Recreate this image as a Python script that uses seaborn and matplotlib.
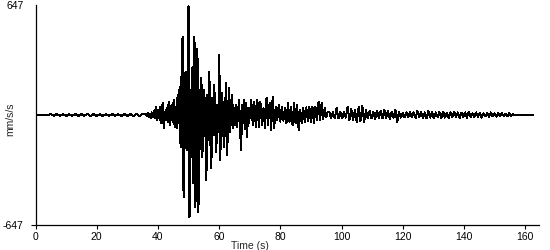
import numpy as np
import pandas as pd
import matplotlib
matplotlib.use("Agg")
import matplotlib.pyplot as plt
import seaborn as sns

# ---------------- data ----------------
# quiet pre-event record
quiet_start, quiet_dt = 0.0, 1.0
quiet_vals = [0, 0, 0, 0, 0,
              5, -5, 6, -4, 5, -6, 4, -5, 6, -5,
              5, -4, 6, -6, 5, -5, 4, -6, 5, -5,
              6, -4, 5, -6, 5, -5, 6, -8, 7, -6,
              8]
# onset and strong motion
strong_start, strong_dt = 36.04, 0.3247
strong_vals = [6, -8, 10, -12, 8, -18, 15, -12, 25, -20,
               47, -29, 30, -20, 47, -47, 35, 70, -76, 20,
               -30, 41, -41, 76, -59, 30, 59, -41, 88, -70,
               47, -76, 118, -47, 165, -188, 247, 459, -482, 100,
               253, -206, 206, 641, -600, 150, -247, 282, -400, 459,
               -541, 200, 388, -570, 150, -200, 218, -247, 150, 129,
               -100, -382, 120, -150, 253, -160, -312, 100, -120, 176,
               -100, -218, 60, -100, 353, -265, 50, 129, -106, -188,
               80, 188, -235, 60, 159, -100, 50, 118, -76, 40,
               -60, 59, -70, 30, 88, -106, -206, 60, -50, 88,
               -80, 70, -129, 40, -47]
# coda
coda_start, coda_dt = 70.5, 0.5
coda_vals = [88, -59, 76, -70, 88, -69, 76, -59, 40, -76,
             100, -60, 72, -88, 106, -76, 50, -29, 59, -39,
             49, -33, 41, -50, 70, -40, 49, -59, 70, -50,
             59, -88, 30, -50, 41, -41, 45, -35, 47, -41,
             47, -47, 47, -29, 76, -29, 70, -25, 41, -12,
             20]
# late tail
tail_start, tail_dt = 96.0, 0.6
tail_vals = [20, -18, 15, -20, 41, -20, 18, -20, 20, -15,
             47, -29, 35, -29, 29, -41, 47, -35, 53, -41,
             29, -20, 23, -18, 20, -25, 26, -18, 23, -20,
             29, -18, 23, -22, 20, -15, 29, -41, 18, -15,
             12, -12, 15, -14, 18, -12, 15, -18, 23, -12,
             20, -18, 15, -20, 23, -15, 18, -20, 15, -12,
             18, -18, 20, -15, 12, -18, 15, -10, 18, -12,
             15, -18, 12, -10, 15, -15, 18, -12, 10, -12,
             15, -10, 12, -15, 10, -8, 12, -10, 15, -8,
             10, -10, 12, -8, 10, -6, 8, -8, 10, -5,
             6, -3, 2, -2, 2, -1, 2, -2, 1, -1,
             1, 0]

y_limit = 647
x_ticks = [0, 20, 40, 60, 80, 100, 120, 140, 160]
y_ticks = [-647, 647]
y_tick_labels = ["-647", "647"]
x_label = "Time (s)"
y_label = "mm/s/s"

# ---------------- build table ----------------
segments = [(quiet_start, quiet_dt, quiet_vals),
            (strong_start, strong_dt, strong_vals),
            (coda_start, coda_dt, coda_vals),
            (tail_start, tail_dt, tail_vals)]
times = np.concatenate([s + d * np.arange(len(v)) for s, d, v in segments])
vals = np.concatenate([np.asarray(v, float) for _, _, v in segments])
df = pd.DataFrame({"time": times, "accel": vals})

# ---------------- plot ----------------
sns.set_style("white")
plt.rcParams["font.family"] = ["Liberation Sans", "DejaVu Sans"]
plt.rcParams["font.size"] = 7

fig = plt.figure(figsize=(5.5, 2.5), dpi=100)
ax = fig.add_axes([35.5 / 550, 25 / 250, 503.5 / 550, 220 / 250])

sns.lineplot(data=df, x="time", y="accel", sort=False, estimator=None,
             color="black", linewidth=0.72, ax=ax)
for ln in ax.lines:
    ln.set_antialiased(False)

ax.set_xlim(0, 503.5 / 3.06)
ax.set_ylim(-y_limit, y_limit)

for side in ["top", "right"]:
    ax.spines[side].set_visible(False)
for side in ["left", "bottom"]:
    ax.spines[side].set_color("black")
    ax.spines[side].set_linewidth(0.9)

ax.set_xticks(x_ticks)
ax.set_xticklabels([str(t) for t in x_ticks])
ax.set_yticks(y_ticks)
ax.set_yticklabels(y_tick_labels)
ax.tick_params(axis="x", direction="out", length=3, width=0.8, pad=2,
               colors="black", labelsize=7.5, bottom=True)
ax.tick_params(axis="y", direction="out", length=3.6, width=0.8, pad=5,
               colors="black", labelsize=7.5, left=True)
ax.yaxis.get_major_ticks()[1].tick1line.set_visible(False)

ax.set_xlabel(x_label, fontsize=7.5)
ax.set_ylabel(y_label, fontsize=7.5)
ax.xaxis.set_label_coords(0.426, -0.072)
ax.yaxis.set_label_coords(-0.041, 0.482)
ax.grid(False)

fig.savefig("out.png", dpi=100, facecolor="white")
